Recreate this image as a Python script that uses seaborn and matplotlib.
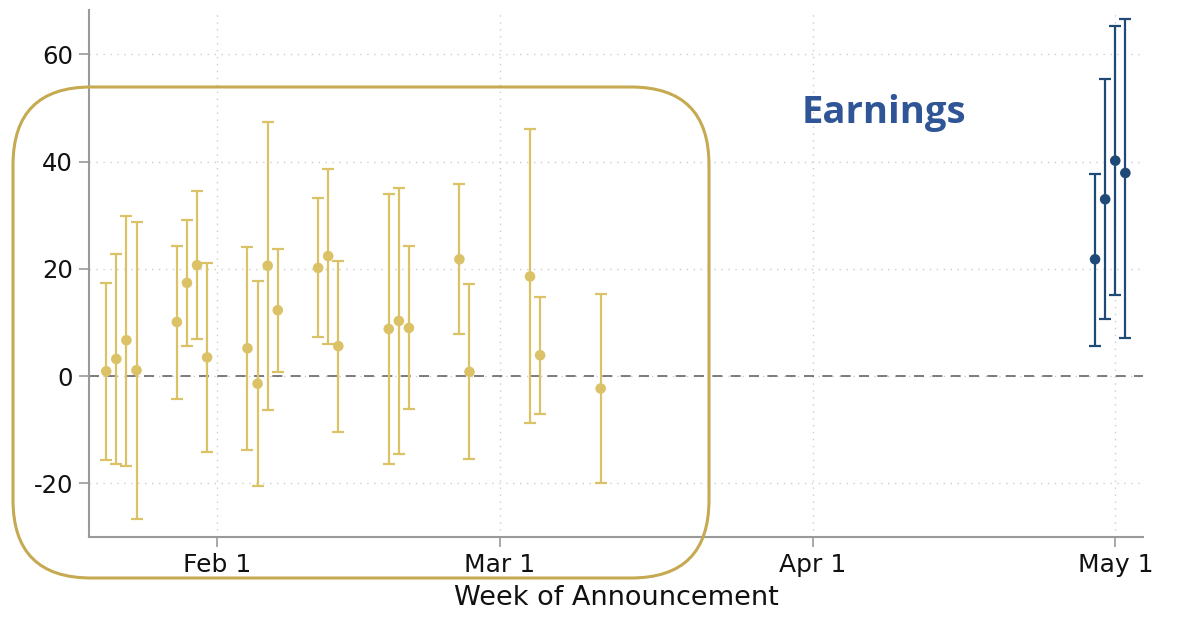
import matplotlib
matplotlib.use("Agg")
import matplotlib.pyplot as plt
from matplotlib.patches import FancyBboxPatch
from matplotlib.transforms import IdentityTransform
import pandas as pd
import seaborn as sns

# Weekly announcement estimates with 95% confidence bounds
dates = [
    "2021-01-21", "2021-01-22", "2021-01-23", "2021-01-24",
    "2021-01-28", "2021-01-29", "2021-01-30", "2021-01-31",
    "2021-02-04", "2021-02-05", "2021-02-06", "2021-02-07",
    "2021-02-11", "2021-02-12", "2021-02-13",
    "2021-02-18", "2021-02-19", "2021-02-20",
    "2021-02-25", "2021-02-26",
    "2021-03-04", "2021-03-05",
    "2021-03-11",
    "2021-04-29", "2021-04-30", "2021-05-01", "2021-05-02",
]
estimate = [0.9, 3.2, 6.7, 1.1,
            10.1, 17.4, 20.7, 3.5,
            5.2, -1.4, 20.6, 12.3,
            20.2, 22.4, 5.6,
            8.8, 10.3, 9.0,
            21.8, 0.8,
            18.6, 3.9,
            -2.3,
            21.8, 33.0, 40.2, 37.9]
upper = [17.4, 22.7, 29.9, 28.8,
         24.2, 29.2, 34.5, 21.2,
         24.1, 17.8, 47.5, 23.7,
         33.2, 38.7, 21.5,
         33.9, 35.1, 24.2,
         35.9, 17.1,
         46.1, 14.8,
         15.4,
         37.8, 55.4, 65.3, 66.7]
lower = [-15.7, -16.3, -16.8, -26.7,
         -4.2, 5.6, 7.0, -14.2,
         -13.7, -20.5, -6.3, 0.8,
         7.3, 6.0, -10.4,
         -16.4, -14.5, -6.1,
         7.8, -15.4,
         -8.8, -7.1,
         -20.0,
         5.7, 10.6, 15.1, 7.2]
group = ["other"] * 23 + ["earnings"] * 4

tick_dates = ["2021-02-01", "2021-03-01", "2021-04-01", "2021-05-01"]
tick_labels = ["Feb 1", "Mar 1", "Apr 1", "May 1"]
y_ticks = [-20, 0, 20, 40, 60]

df = pd.DataFrame({
    "date": pd.to_datetime(dates),
    "estimate": estimate,
    "upper": upper,
    "lower": lower,
    "group": group,
})

palette = {"other": "#DCC266", "earnings": "#1F4A78"}

sns.set_theme(style="white")
plt.rcParams["font.family"] = ["DejaVu Sans"]
plt.rcParams["axes.unicode_minus"] = False

W, H = 1180, 617
fig = plt.figure(figsize=(W / 100, H / 100), dpi=100)
ax = fig.add_axes([89 / W, 1 - 537 / H, (1143 - 89) / W, (537 - 10) / H])

# confidence intervals with caps
for g, sub in df.groupby("group"):
    ax.errorbar(sub["date"], sub["estimate"],
                yerr=[sub["estimate"] - sub["lower"], sub["upper"] - sub["estimate"]],
                fmt="none", ecolor=palette[g], elinewidth=1.6, capsize=4.2,
                capthick=1.6, zorder=3)

sns.scatterplot(data=df, x="date", y="estimate", hue="group", palette=palette,
                s=58, edgecolor="none", legend=False, ax=ax, zorder=4)

ax.axhline(0, color="#666666", lw=1.2, ls=(0, (6, 5)), zorder=2)

ax.set_xlim(pd.Timestamp("2021-01-19 07:00"), pd.Timestamp("2021-05-03 18:00"))
ax.set_ylim(-30.0, 68.3)
ax.set_xticks(pd.to_datetime(tick_dates))
ax.set_xticklabels(tick_labels)
ax.set_yticks(y_ticks)
ax.set_yticklabels([str(v) for v in y_ticks])

ax.grid(True, which="major", color="#cdcdcd", lw=1.0, ls=(0, (1, 4)))
ax.set_axisbelow(True)
for side in ("top", "right"):
    ax.spines[side].set_visible(False)
for side in ("left", "bottom"):
    ax.spines[side].set_color("#9a9a9a")
    ax.spines[side].set_linewidth(1.5)
ax.tick_params(axis="both", direction="out", length=7, width=1.2, color="#9a9a9a",
               labelcolor="#111111", pad=4.5)
ax.tick_params(axis="x", bottom=True, labelsize=18)
ax.tick_params(axis="y", left=True, labelsize=17.5)

ax.set_xlabel("Week of Announcement", fontsize=19.5, color="#111111", labelpad=6)
ax.set_ylabel("")

fig.text(883.7 / W, 1 - 123 / H, "Earnings", ha="center", va="baseline",
         fontsize=27.5, fontweight="bold", color="#2F5597",
         family=["Open Sans", "DejaVu Sans"])

# rounded frame around the January–March estimates (pixel coordinates)
box = FancyBboxPatch((13, H - 578), 709 - 13, 578 - 87,
                     boxstyle="round,pad=0,rounding_size=78",
                     transform=IdentityTransform(), fill=False,
                     edgecolor="#C6AA52", lw=2.2, clip_on=False, zorder=5)
fig.add_artist(box)

fig.savefig("out.png", dpi=100)
